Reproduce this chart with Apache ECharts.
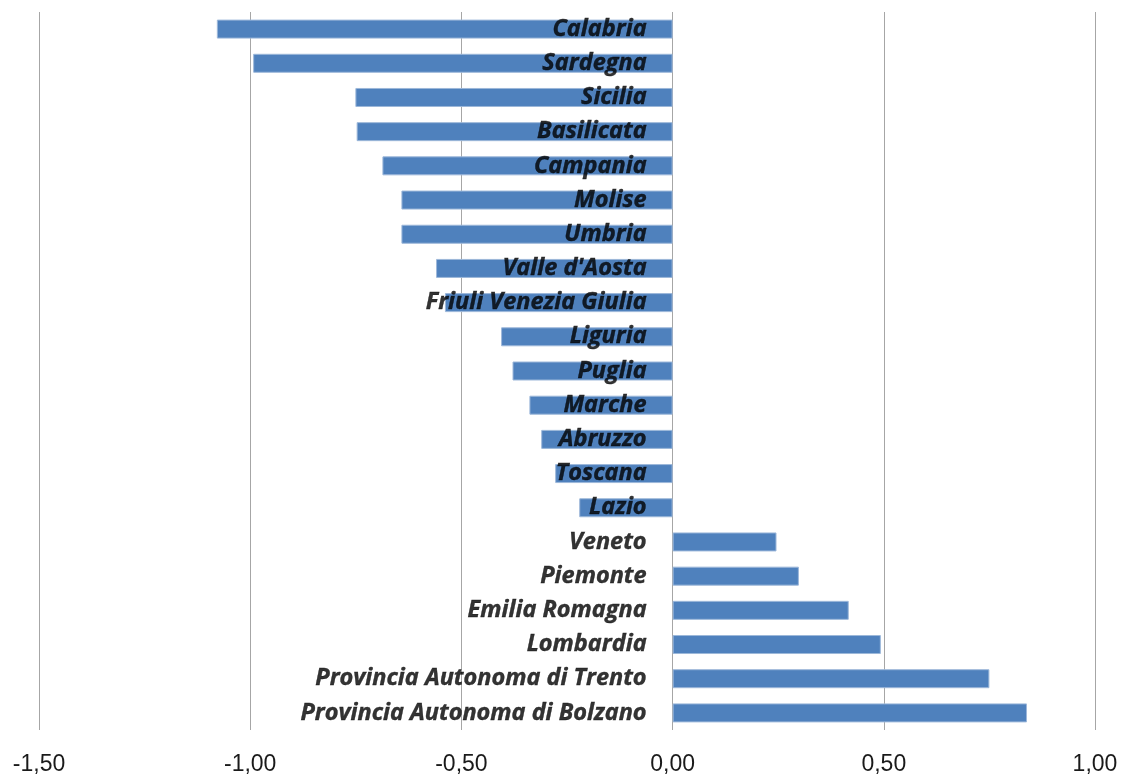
<!DOCTYPE html>
<html>
<head>
<meta charset="utf-8">
<script src="https://cdn.jsdelivr.net/npm/echarts@6/dist/echarts.min.js"></script>
<style>html,body{margin:0;padding:0;background:#fff;}#c{width:1123px;height:776px;}</style>
</head>
<body>
<div id="c"></div>
<script>
const categories = ["Calabria","Sardegna","Sicilia","Basilicata","Campania","Molise","Umbria","Valle d'Aosta","Friuli Venezia Giulia","Liguria","Puglia","Marche","Abruzzo","Toscana","Lazio","Veneto","Piemonte","Emilia Romagna","Lombardia","Provincia Autonoma di Trento","Provincia Autonoma di Bolzano"];
const values = [-1.079,-0.993,-0.751,-0.748,-0.687,-0.642,-0.642,-0.560,-0.539,-0.406,-0.379,-0.339,-0.311,-0.278,-0.221,0.246,0.299,0.417,0.493,0.750,0.839];
const xMin = -1.5, xMax = 1.0, xStep = 0.5;

const chart = echarts.init(document.getElementById('c'));
chart.setOption({
  animation: false,
  grid: {left: 39, right: 28, top: 12, bottom: 46, containLabel: false, outerBoundsMode: 'none'},
  xAxis: {
    type: 'value', min: xMin, max: xMax, interval: xStep,
    axisLine: {show: false}, axisTick: {show: false},
    splitLine: {show: true, lineStyle: {color: '#a6a6a6', width: 1}},
    axisLabel: {
      margin: 23, color: '#1a1a1a', fontSize: 23, fontFamily: 'Liberation Sans, sans-serif',
      formatter: v => v.toFixed(2).replace('.', ',')
    }
  },
  yAxis: {
    type: 'category', data: categories, inverse: true,
    axisLine: {show: false}, axisTick: {show: false}, axisLabel: {show: false},
    splitLine: {show: false}
  },
  series: [{
    type: 'bar', data: values, barWidth: 19, z: 2,
    itemStyle: {color: '#4F81BD', borderColor: '#9DB8DA', borderWidth: 1}
  }, {
    type: 'scatter', z: 5, symbolSize: 0, silent: true,
    data: categories.map(c => [0, c]),
    label: {
      show: true, position: 'left', distance: 26,
      formatter: p => categories[p.dataIndex],
      color: '#000', fontSize: 23.5, fontWeight: 'bold', fontStyle: 'italic',
      fontFamily: 'Open Sans, sans-serif',
      textBorderColor: '#000', textBorderWidth: 0.4
    }
  }]
});
</script>
</body>
</html>
